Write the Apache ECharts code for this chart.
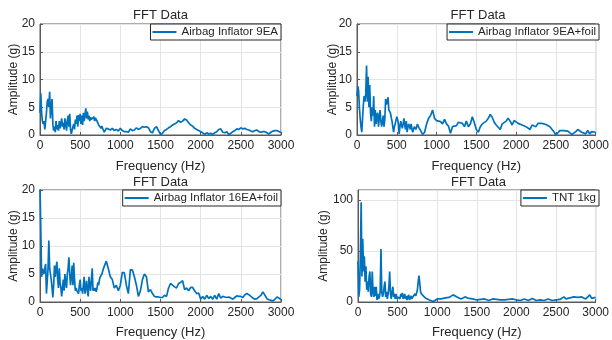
<!DOCTYPE html>
<html><head><meta charset="utf-8">
<script src="https://cdn.jsdelivr.net/npm/echarts@6/dist/echarts.min.js"></script>
<style>html,body{margin:0;padding:0;background:#fff}#c{width:612px;height:340px}</style>
</head><body><div id="c"></div>
<script>
// Frequencies (Hz): 10 Hz steps up to 800, then 25 Hz steps up to 3000
const freqLow = [0,10,20,30,40,50,60,70,80,90,100,110,120,130,140,150,160,170,180,190,200,210,220,230,240,250,260,270,280,290,300,310,320,330,340,350,360,370,380,390,400,410,420,430,440,450,460,470,480,490,500,510,520,530,540,550,560,570,580,590,600,610,620,630,640,650,660,670,680,690,700,710,720,730,740,750,760,770,780,790,800];
const freqHigh = [825,850,875,900,925,950,975,1000,1025,1050,1075,1100,1125,1150,1175,1200,1225,1250,1275,1300,1325,1350,1375,1400,1425,1450,1475,1500,1525,1550,1575,1600,1625,1650,1675,1700,1725,1750,1775,1800,1825,1850,1875,1900,1925,1950,1975,2000,2025,2050,2075,2100,2125,2150,2175,2200,2225,2250,2275,2300,2325,2350,2375,2400,2425,2450,2475,2500,2525,2550,2575,2600,2625,2650,2675,2700,2725,2750,2775,2800,2825,2850,2875,2900,2925,2950,2975,3000];

// Airbag Inflator 9EA
const ampA_low = [
 4,7.5,4,2.5,2,2.5,1,1.2,4,6,
 6.5,5,7.8,3,5,6.5,2,0.8,1.5,0.5,
 2.5,1,1.8,0.8,2.5,1.2,2,3,1.5,2.2,
 1,3,2,0.8,2.5,3.5,1.5,3.8,1,0.2,
 0.5,1.5,2,1,2.8,2,3.5,1.5,3.6,2.5,
 3.8,2,3.5,1.8,4,2.5,3.5,4.8,3,4.2,
 2.8,3.5,2.5,3.2,2.8,3,2.6,3.3,2.5,3.1,
 2.8,3.2,2.2,1.8,1.9,1.5,1.2,1.6,1.2,1,
 0.5];
const ampA_high = [
 1.2,1.1,0.9,1.2,0.8,1.0,0.7,1.2,
 0.8,0.6,0.6,0.5,1.1,0.8,0.9,1.3,
 1.0,1.2,1.5,1.4,1.5,1.3,0.6,0.4,
 1.2,1.5,0.8,0.1,0.3,0.8,1.0,1.3,
 1.5,1.8,2.0,2.2,2.6,2.3,2.5,2.9,
 2.7,2.2,1.8,1.6,1.2,1.0,0.8,0.6,
 0.4,0.1,0.4,0.2,0.3,0.1,0.4,0.6,
 1.0,1.1,0.5,0.4,0.6,0.1,0.3,0.6,
 0.8,1.1,1.0,1.3,1.1,1.2,1.0,0.9,
 0.7,0.6,0.8,0.9,0.6,0.5,0.6,0.6,
 0.4,0.2,0.5,0.7,0.8,0.8,0.6,0.5];

// Airbag Inflator 9EA+foil
const ampB_low = [
 7,8.8,8,5,3,1.5,0.5,3,5.5,7,
 6,7.5,12.5,6,10.5,5,9,4,2.5,5,
 3.5,7,1.5,4.5,2,3.5,4,1.5,3,4.5,
 2.5,1.5,2.5,3.5,1.5,3,6.5,5.5,6,6.8,
 4.5,4.2,4,3.2,2.5,1.5,0.5,1.5,2,2,
 3.3,2.8,2,0.2,1.5,2.5,1.8,1.2,2,3,
 1.8,1,2.5,0.5,1.5,2,1.5,1,2,1.2,
 0.5,1,1.5,1.2,1,1.5,2,1.5,1.3,1.5,
 0.8];
const ampB_high = [
 0.1,0.5,2,3,3.5,4.5,3,2.6,
 2.5,2.4,2,2.8,2,1.6,0.3,1.5,
 1.8,1.7,2.3,2,2.1,1.5,2.5,1.5,
 2,3.3,2.2,1,0.5,1.5,2,2.3,
 2.5,3,3.7,3.2,2.3,1.8,1.5,1,
 2,2.3,2.5,3,2.5,1.8,2.6,2.3,
 2.1,2,1.8,1.7,1.5,1.3,1,1.8,
 2,1.5,2.1,2,2.1,2.2,1.9,1.8,
 1.5,1.2,0.6,0,0.1,0.8,0.9,0.8,
 0.6,0.7,0.7,0.1,0.4,0.6,1,1.3,
 0.5,0.3,0.2,0.8,0.2,0.6,0.5,0.5];

// Airbag Inflator 16EA+foil
const ampC_low = [
 20.5,13,4.5,6,5.5,5,6,6.8,1.5,1.2,
 6,11,6,5,4,2.5,0.8,3,6.5,4.5,
 6,7.2,4,2.5,6,3.5,2.5,1,2.5,4,
 2,5,3.5,2.5,5,6,8,5,3,4.5,
 6.5,3,7,4,2,2.5,2,1.8,1.5,3,
 4,2,2.5,1.5,3,4.5,1.5,2.5,3.8,2,
 1,4.5,3,2,4,6,2,2.5,2,2.5,
 1.8,2.5,3.5,3,4,4.5,4.8,5,5.5,6,
 6];
const ampC_high = [
 7.3,6,4.5,4,2.5,3,2,3,
 5.3,5.2,3,1.5,5.8,5.7,4.5,3,
 1,2,4,5,4.5,1.8,2.2,1.5,
 1,0.9,0.9,0.8,0.8,1.2,1,2.5,
 3.3,3,2.7,2.5,3.3,3.5,3.8,2.2,
 2.5,2,2.6,2.6,2,1.5,1.6,0.5,
 1,0.5,1.2,0.6,1,0.5,1.2,0.5,
 1.5,0.7,1,0.9,0.8,0.9,0.7,0.5,
 0.8,1.1,1,1,0.8,1.3,1.5,1.3,
 1,0.7,0.5,0.6,0.9,1.2,1.8,1.2,
 0.6,0.4,0.3,0.2,0.5,0.9,0.7,0.4];

// TNT 1kg
const ampD_low = [
 40,5,12,45,98,25,62,30,45,20,
 35,12,20,10,25,30,8,5,30,10,
 5,15,6,15,2,8,3,5,10,52,
 10,5,8,15,20,5,10,3,8,15,
 30,8,3,10,15,5,8,3,8,3,
 5,4,6,3,8,5,9,3,5,8,
 3,6,2,5,7,2,4,6,3,4,
 6,5,8,6,9,12,20,26,18,10,
 8];
const ampD_high = [
 6,4,3,2,1.5,0.5,1,3,
 2,3,2.5,4,3,4.5,5,7,
 6,5,3.5,3,4,5,4,3.5,
 2.5,3,2,2,3,2.5,1.5,3,
 2.5,1.5,2,3,2,2.5,1.5,2,
 3,2,1.5,2.5,2,3,1.5,2,
 2.5,1.5,2,3,2,1.5,2.5,3.5,
 2,1.5,2.5,2,3,1.5,2,3,
 2,1.5,2.5,2,3,2.5,4,5,
 3,2.5,4,3,5,3.5,4.5,3,
 5,4,3,4.5,7,3.5,4,4.5];

const seriesNames = ['Airbag Inflator 9EA','Airbag Inflator 9EA+foil','Airbag Inflator 16EA+foil','TNT 1kg'];
const titleText = 'FFT Data';
const xName = 'Frequency (Hz)';
const yName = 'Amplitude (g)';
const yMax = [20,20,20,110];
const yInterval = [5,5,5,50];

const FONT = '"Liberation Sans", Arial, Helvetica, sans-serif';
const TXT = '#262626';
const AX = '#5a5a5a';
const GRIDC = '#e4e4e4';
const LINE = '#0072BD';

function pairs(lo, hi) {
  const out = [];
  freqLow.forEach((f, i) => out.push([f, lo[i]]));
  freqHigh.forEach((f, i) => out.push([f, hi[i]]));
  return out;
}
const allData = [pairs(ampA_low, ampA_high), pairs(ampB_low, ampB_high), pairs(ampC_low, ampC_high), pairs(ampD_low, ampD_high)];

const layouts = [
  {left:40, top:24, width:241, height:111, titleTop:9, yGap:20, xGap:25},
  {left:357, top:24, width:242, height:111, titleTop:9, yGap:18, xGap:25},
  {left:40, top:190, width:241, height:112, titleTop:176, yGap:20, xGap:24},
  {left:358, top:190, width:241, height:112, titleTop:176, yGap:28, xGap:24}
];

const option = {
  backgroundColor:'#fff',
  animation:false,
  textStyle:{fontFamily:FONT},
  title: layouts.map(l => ({text:titleText, left:l.left + l.width/2, top:l.titleTop, textAlign:'center', padding:0,
    textStyle:{fontSize:13, fontWeight:'normal', color:TXT, fontFamily:FONT}})),
  grid: layouts.map(l => ({left:l.left, top:l.top, width:l.width, height:l.height, show:true, borderColor:AX, borderWidth:1, backgroundColor:'#fff'})),
  legend: layouts.map((l, i) => ({data:[seriesNames[i]], right:612 - (l.left + l.width), top:l.top, borderColor:TXT, borderWidth:1,
    backgroundColor:'#fff', padding:[2,3,2,2], icon:'rect', itemWidth:24, itemHeight:2, selectedMode:false,
    itemStyle:{color:LINE}, textStyle:{fontSize:11.5, color:TXT, fontFamily:FONT}})),
  xAxis: layouts.map((l, i) => ({type:'value', gridIndex:i, min:0, max:3000, interval:500,
    name:xName, nameLocation:'middle', nameGap:l.xGap, nameTextStyle:{fontSize:13, color:TXT, fontFamily:FONT},
    axisLine:{show:true, onZero:false, lineStyle:{color:AX, width:1}},
    axisTick:{show:true, inside:true, length:3, lineStyle:{color:AX}},
    axisLabel:{fontSize:12, color:TXT, margin:5, fontFamily:FONT, formatter: v => String(v)},
    splitLine:{show:true, lineStyle:{color:GRIDC, width:1}}})),
  yAxis: layouts.map((l, i) => ({type:'value', gridIndex:i, min:0, max:yMax[i], interval:yInterval[i],
    name:yName, nameLocation:'middle', nameGap:l.yGap, nameMoveOverlap:false,
    nameTextStyle:{fontSize:12, color:TXT, fontFamily:FONT},
    axisLine:{show:true, onZero:false, lineStyle:{color:AX, width:1}},
    axisTick:{show:true, inside:true, length:3, lineStyle:{color:AX}},
    axisLabel:{fontSize:12, color:TXT, margin:5, fontFamily:FONT, showMaxLabel: yMax[i] % yInterval[i] === 0, formatter: v => String(v)},
    splitLine:{show:true, lineStyle:{color:GRIDC, width:1}}})),
  series: allData.map((d, i) => ({type:'line', name:seriesNames[i], xAxisIndex:i, yAxisIndex:i, data:d,
    symbol:'none', clip:true, lineStyle:{color:LINE, width:1.7}, itemStyle:{color:LINE}}))
};
const chart = echarts.init(document.getElementById('c'), null, {renderer:'canvas'});
chart.setOption(option);
</script>
</body></html>
